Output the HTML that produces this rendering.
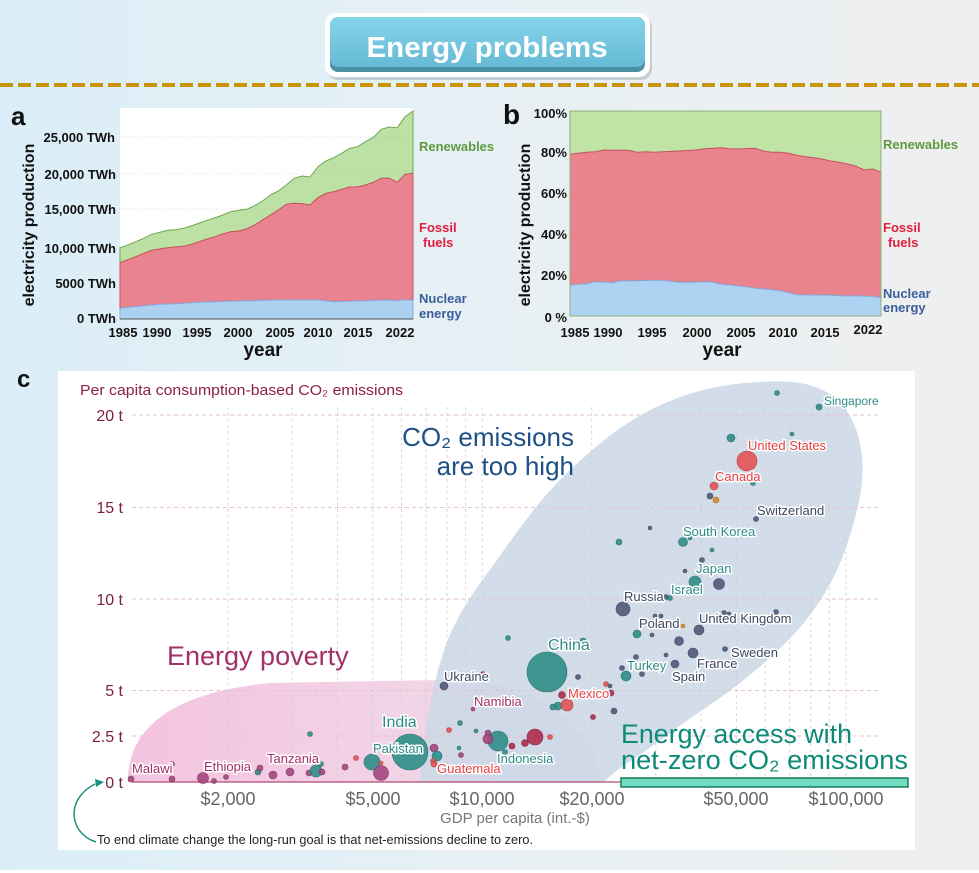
<!DOCTYPE html>
<html><head><meta charset="utf-8"><style>
html,body{margin:0;padding:0;background:#fff;}
svg{display:block;font-family:"Liberation Sans",Arial,sans-serif;}
.b{font-weight:bold;}
.lb{paint-order:stroke;stroke:#fff;stroke-width:3px;stroke-linejoin:round;font-size:13px;}
.m{fill:#a54a80;stroke:#7a2f5c;stroke-width:.6;opacity:.92}
.t{fill:#33908a;stroke:#1f6a65;stroke-width:.6;opacity:.92}
.g{fill:#525c7a;stroke:#39415a;stroke-width:.6;opacity:.92}
.r{fill:#e35656;stroke:#b03a3a;stroke-width:.6;opacity:.92}
.o{fill:#d98c2a;stroke:#a86418;stroke-width:.6;opacity:.92}
.s{fill:#b03050;stroke:#7e2038;stroke-width:.6;opacity:.92}
</style></head><body>
<svg width="979" height="873" viewBox="0 0 979 873" xmlns="http://www.w3.org/2000/svg">
<defs>
<linearGradient id="bg" x1="0" y1="0" x2="1" y2="0">
<stop offset="0" stop-color="#dbeef7"/><stop offset="0.5" stop-color="#e7f0f5"/><stop offset="1" stop-color="#efefef"/>
</linearGradient>
<linearGradient id="btn" x1="0" y1="0" x2="0" y2="1">
<stop offset="0" stop-color="#86d4eb"/><stop offset="1" stop-color="#66bad5"/>
</linearGradient>
<linearGradient id="pink" x1="0" y1="0" x2="1" y2="0">
<stop offset="0" stop-color="#f4c3df"/><stop offset="0.6" stop-color="#f2d4e7"/><stop offset="1" stop-color="#ecdcea"/>
</linearGradient>
</defs>
<rect width="979" height="870" fill="url(#bg)"/>

<!-- Title button -->
<rect x="327" y="16" width="325" height="64" rx="11" fill="#9aa3a8" opacity=".45"/>
<rect x="325" y="13" width="325" height="64" rx="11" fill="#ffffff"/>
<rect x="330" y="17" width="315" height="55" rx="8" fill="#4e8fa8"/>
<rect x="330" y="17" width="315" height="50" rx="8" fill="url(#btn)"/>
<text x="487" y="57" text-anchor="middle" class="b" font-size="29" fill="#ffffff" textLength="241" lengthAdjust="spacingAndGlyphs">Energy problems</text>
<line x1="0" y1="85" x2="979" y2="85" stroke="#c8940c" stroke-width="4" stroke-dasharray="13 5"/>

<!-- Panel a -->
<text x="11" y="125" class="b" font-size="26" fill="#111">a</text>
<rect x="120" y="108" width="293" height="211" fill="#ffffff"/>
<polygon fill="#bde0a4" stroke="#6aa84f" stroke-width="1" points="120,247.7 127.9,245 135.8,241.7 143.8,238.3 151.7,234.3 159.6,232.3 167.5,230.3 175.4,229.7 183.4,228.3 191.3,226 199.2,223 207.1,220.3 215,217.7 222.9,215 230.8,211.7 238.8,210.3 246.7,209.3 254.6,205.7 262.5,201 270.4,195 278.4,191 286.3,185 294.2,178.3 302.1,176 310,177 318,166.7 325.9,161 333.8,157.7 341.7,153.3 349.6,148.3 357.6,146.7 365.5,141.7 373.4,137.3 381.3,129.3 389.2,127 397.2,127.7 405.1,116.7 413,111 413,173.3 405.1,174.3 397.2,182.3 389.2,178.3 381.3,178.3 373.4,182.3 365.5,185 357.6,187 349.6,187 341.7,189.3 333.8,191.7 325.9,193.3 318,197.7 310,205 302.1,203.7 294.2,203.3 286.3,204.3 278.4,210 270.4,215 262.5,220 254.6,225 246.7,229 238.8,231 230.8,231.7 222.9,234 215,236.7 207.1,239 199.2,241.7 191.3,244.3 183.4,246.3 175.4,247 167.5,247.7 159.6,249 151.7,250.3 143.8,253.3 135.8,256.7 127.9,259.7 120,262.7"/>
<polygon fill="#e8838f" stroke="#c9505e" stroke-width="1" points="120,262.7 127.9,259.7 135.8,256.7 143.8,253.3 151.7,250.3 159.6,249 167.5,247.7 175.4,247 183.4,246.3 191.3,244.3 199.2,241.7 207.1,239 215,236.7 222.9,234 230.8,231.7 238.8,231 246.7,229 254.6,225 262.5,220 270.4,215 278.4,210 286.3,204.3 294.2,203.3 302.1,203.7 310,205 318,197.7 325.9,193.3 333.8,191.7 341.7,189.3 349.6,187 357.6,187 365.5,185 373.4,182.3 381.3,178.3 389.2,178.3 397.2,182.3 405.1,174.3 413,173.3 413,300.3 405.1,299.7 397.2,300.7 389.2,300 357.6,301 333.8,301.7 318,300 278.4,300 238.8,301 199.2,302.3 175.4,303.7 159.6,304.3 143.8,305.7 120,308.3"/>
<polygon fill="#abd0f0" stroke="#86aee0" stroke-width="1" points="120,308.3 143.8,305.7 159.6,304.3 175.4,303.7 199.2,302.3 238.8,301 278.4,300 318,300 333.8,301.7 357.6,301 389.2,300 397.2,300.7 405.1,299.7 413,300.3 413,319 120,319"/>
<g stroke="#9a9a9a" stroke-width=".6" stroke-dasharray="1 2" opacity=".6">
<line x1="120" y1="137" x2="413" y2="137"/><line x1="120" y1="174" x2="413" y2="174"/><line x1="120" y1="209" x2="413" y2="209"/><line x1="120" y1="248" x2="413" y2="248"/><line x1="120" y1="283" x2="413" y2="283"/>
</g>
<line x1="120" y1="319" x2="413" y2="319" stroke="#555" stroke-width="1"/>
<g class="b" font-size="13" fill="#111" text-anchor="end">
<text x="115" y="142">25,000 TWh</text><text x="116" y="179">20,000 TWh</text><text x="116" y="214">15,000 TWh</text><text x="116" y="253">10,000 TWh</text><text x="116" y="288">5000 TWh</text><text x="116" y="323">0 TWh</text>
</g>
<g class="b" font-size="13" fill="#111" text-anchor="middle">
<text x="123" y="337">1985</text><text x="157" y="337">1990</text><text x="197" y="337">1995</text><text x="238" y="337">2000</text><text x="280" y="337">2005</text><text x="318" y="337">2010</text><text x="358" y="337">2015</text><text x="400" y="337">2022</text>
</g>
<text x="263" y="356" text-anchor="middle" class="b" font-size="19" fill="#111">year</text>
<text transform="translate(34,225) rotate(-90)" text-anchor="middle" class="b" font-size="16" fill="#111">electricity production</text>
<g class="b" font-size="13">
<text x="419" y="151" fill="#5e9a3e">Renewables</text>
<text x="419" y="232" fill="#e0203c">Fossil</text><text x="423" y="247" fill="#e0203c">fuels</text>
<text x="419" y="303" fill="#3a5e9c">Nuclear</text><text x="419" y="318" fill="#3a5e9c">energy</text>
</g>

<!-- Panel b -->
<text x="503" y="124" class="b" font-size="28" fill="#111">b</text>
<rect x="570" y="111" width="311" height="205" fill="#c0e3a6"/>
<polygon fill="#e9848f" stroke="#c9505e" stroke-width="1" points="570,154.3 586.8,152.3 595.2,151.7 603.6,150 612,150.3 628.8,150.3 637.2,152.3 645.6,151.7 654,152.3 662.5,151.7 679.3,151 696.1,150 704.5,148.7 721.3,147.7 729.7,148.7 738.1,149 754.9,148.3 763.3,151 771.7,152.3 780.1,152.3 788.5,153.3 796.9,155.3 805.3,156.7 813.7,157.7 822.1,159 830.5,161 838.9,162.3 847.3,164 855.7,166 864.1,170 872.6,169 881,172.3 881,297.7 872.6,296.3 864.1,296.3 855.7,295.7 847.3,296 830.5,295.3 813.7,295 805.3,295 796.9,294.7 788.5,292.7 780.1,290.7 771.7,289.7 763.3,289 754.9,288.3 746.5,286.7 738.1,286 729.7,285 721.3,284.3 712.9,282.3 704.5,281.7 696.1,282.3 679.3,282.3 662.5,280.3 637.2,280.7 620.4,281 612,282.7 595.2,281.7 586.8,283.7 570,285"/>
<polygon fill="#aed3f2" stroke="#86aee0" stroke-width="1" points="570,285 586.8,283.7 595.2,281.7 612,282.7 620.4,281 637.2,280.7 662.5,280.3 679.3,282.3 696.1,282.3 704.5,281.7 712.9,282.3 721.3,284.3 729.7,285 738.1,286 746.5,286.7 754.9,288.3 763.3,289 771.7,289.7 780.1,290.7 788.5,292.7 796.9,294.7 805.3,295 813.7,295 830.5,295.3 847.3,296 855.7,295.7 864.1,296.3 872.6,296.3 881,297.7 881,316 570,316"/>
<g stroke="#9a9a9a" stroke-width=".6" stroke-dasharray="1 2" opacity=".5">
<line x1="570" y1="152" x2="881" y2="152"/><line x1="570" y1="193" x2="881" y2="193"/><line x1="570" y1="234" x2="881" y2="234"/><line x1="570" y1="275" x2="881" y2="275"/>
</g>
<rect x="570" y="111" width="311" height="205" fill="none" stroke="#8fb07a" stroke-width="1"/>
<g class="b" font-size="13" fill="#111" text-anchor="end">
<text x="567" y="118">100%</text><text x="567" y="157">80%</text><text x="567" y="198">60%</text><text x="567" y="239">40%</text><text x="567" y="280">20%</text><text x="567" y="322">0 %</text>
</g>
<g class="b" font-size="13" fill="#111" text-anchor="middle">
<text x="575" y="337">1985</text><text x="608" y="337">1990</text><text x="652" y="337">1995</text><text x="697" y="337">2000</text><text x="741" y="337">2005</text><text x="783" y="337">2010</text><text x="825" y="337">2015</text><text x="868" y="334">2022</text>
</g>
<text x="722" y="356" text-anchor="middle" class="b" font-size="19" fill="#111">year</text>
<text transform="translate(530,225) rotate(-90)" text-anchor="middle" class="b" font-size="16" fill="#111">electricity production</text>
<g class="b" font-size="13">
<text x="883" y="149" fill="#5e9a3e">Renewables</text>
<text x="883" y="232" fill="#e0203c">Fossil</text><text x="888" y="247" fill="#e0203c">fuels</text>
<text x="883" y="298" fill="#3a5e9c">Nuclear</text><text x="883" y="312" fill="#3a5e9c">energy</text>
</g>

<!-- Panel c -->
<text x="17" y="387" class="b" font-size="24" fill="#111">c</text>
<rect x="58" y="371" width="857" height="479" fill="#ffffff"/>
<text x="80" y="395" font-size="15" fill="#8b2045" textLength="323" lengthAdjust="spacingAndGlyphs">Per capita consumption-based CO₂ emissions</text>

<!-- pink region -->
<path d="M128,782 C127,733 165,693 270,683 L440,680 C530,680 592,715 602,782 Z" fill="url(#pink)"/>
<!-- blue region -->
<path d="M420,782 L421.5,763.5 Q423,745 426.5,725 Q430,705 434,686.5 Q438,668 444.5,649 Q451,630 461.5,612 Q472,594 484.5,577 Q497,560 509,543 Q521,526 534,509.5 Q547,493 562.5,477.5 Q578,462 595,447.5 Q612,433 629.5,422 Q647,411 664,403.5 Q681,396 697.5,391.5 Q714,387 732,384.5 Q750,382 768.5,381.5 Q787,381 800,383 Q813,385 825.5,391.5 Q838,398 846.5,410.5 Q855,423 859,439 Q863,455 862.5,472.5 Q862,490 857.5,508.5 Q853,527 846,547.5 Q839,568 829.5,585 Q820,602 808.5,617 Q797,632 782.5,646 Q768,660 753,672.5 Q738,685 724,695 Q710,705 698,713 Q686,721 672,731.5 Q658,742 646,750.5 Q634,759 625.5,764.5 Q617,770 610.5,776 L604,782 Z" fill="#ccd8e6" opacity=".88"/>

<!-- gridlines -->
<g stroke="#cfcfcf" stroke-width="1" stroke-dasharray="3 3" opacity=".8">
<line x1="228" y1="407" x2="228" y2="782"/><line x1="292" y1="407" x2="292" y2="782"/><line x1="337.5" y1="407" x2="337.5" y2="782"/><line x1="372.7" y1="407" x2="372.7" y2="782"/><line x1="401.5" y1="407" x2="401.5" y2="782"/><line x1="425.9" y1="407" x2="425.9" y2="782"/><line x1="447" y1="407" x2="447" y2="782"/><line x1="465.6" y1="407" x2="465.6" y2="782"/><line x1="482.2" y1="407" x2="482.2" y2="782"/><line x1="591.7" y1="407" x2="591.7" y2="782"/><line x1="655.8" y1="407" x2="655.8" y2="782"/><line x1="701.2" y1="407" x2="701.2" y2="782"/><line x1="736.4" y1="407" x2="736.4" y2="782"/><line x1="765.2" y1="407" x2="765.2" y2="782"/><line x1="789.6" y1="407" x2="789.6" y2="782"/><line x1="810.7" y1="407" x2="810.7" y2="782"/><line x1="829.3" y1="407" x2="829.3" y2="782"/><line x1="845.9" y1="407" x2="845.9" y2="782"/>
</g>
<g stroke="#e6c2cf" stroke-width="1" stroke-dasharray="4 3">
<line x1="132" y1="415" x2="878" y2="415"/><line x1="132" y1="507.5" x2="878" y2="507.5"/><line x1="132" y1="599" x2="878" y2="599"/><line x1="132" y1="690.5" x2="878" y2="690.5"/><line x1="132" y1="736" x2="878" y2="736"/>
</g>
<line x1="132" y1="782" x2="621" y2="782" stroke="#b04a78" stroke-width="1.2"/>

<g font-size="16" fill="#7a1f3d" text-anchor="end">
<text x="123" y="421">20 t</text><text x="123" y="513">15 t</text><text x="123" y="605">10 t</text><text x="123" y="696">5 t</text><text x="123" y="742">2.5 t</text><text x="123" y="788">0 t</text>
</g>
<g font-size="18" fill="#666" text-anchor="middle">
<text x="228" y="805">$2,000</text><text x="373" y="805">$5,000</text><text x="482" y="805">$10,000</text><text x="592" y="805">$20,000</text><text x="736" y="805">$50,000</text><text x="846" y="805">$100,000</text>
</g>
<text x="515" y="823" text-anchor="middle" font-size="15" fill="#777">GDP per capita (int.-$)</text>
<text x="97" y="844" font-size="13" fill="#222" textLength="436" lengthAdjust="spacingAndGlyphs">To end climate change the long-run goal is that net-emissions decline to zero.</text>
<path d="M96,842 C70,834 64,800 95,784" fill="none" stroke="#1a9080" stroke-width="1.5"/>
<polygon points="104,782 95,779 96,787" fill="#1a9080"/>

<!-- Big annotations -->
<g font-size="26" fill="#1e4f86" text-anchor="end">
<text x="574" y="446">CO₂ emissions</text><text x="574" y="475">are too high</text>
</g>
<text x="167" y="665" font-size="27" fill="#a3306a">Energy poverty</text>
<text x="621" y="743" font-size="27" fill="#0e8a78" textLength="231" lengthAdjust="spacingAndGlyphs">Energy access with</text>
<text x="621" y="769" font-size="27" fill="#0e8a78" textLength="287" lengthAdjust="spacingAndGlyphs">net-zero CO₂ emissions</text>
<rect x="621" y="778" width="287" height="9" fill="#72dcc2" stroke="#1a7a5a" stroke-width="1.5"/>

<!-- bubbles -->
<g>
<circle cx="131" cy="779" r="3" class="m"/>
<circle cx="172" cy="764" r="2.5" class="m"/>
<circle cx="172" cy="779" r="3" class="m"/>
<circle cx="203" cy="778" r="5.5" class="m"/>
<circle cx="214" cy="781" r="2.5" class="m"/>
<circle cx="226" cy="777" r="2.5" class="m"/>
<circle cx="258" cy="772" r="3" class="t"/>
<circle cx="260" cy="768" r="3" class="m"/>
<circle cx="273" cy="775" r="4" class="m"/>
<circle cx="290" cy="772" r="4" class="m"/>
<circle cx="309" cy="773" r="3" class="m"/>
<circle cx="310" cy="734" r="2.5" class="t"/>
<circle cx="316" cy="771" r="6" class="t"/>
<circle cx="321" cy="764" r="2.5" class="t"/>
<circle cx="322" cy="772" r="3" class="m"/>
<circle cx="345" cy="767" r="3" class="m"/>
<circle cx="356" cy="758" r="2.5" class="r"/>
<circle cx="372" cy="762" r="8" class="t"/>
<circle cx="381" cy="773" r="7.5" class="m"/>
<circle cx="381" cy="763" r="2" class="r"/>
<circle cx="410" cy="752" r="18" class="t"/>
<circle cx="434" cy="748" r="4" class="m"/>
<circle cx="437" cy="756" r="5" class="t"/>
<circle cx="433" cy="761" r="2.5" class="r"/>
<circle cx="434" cy="764" r="3" class="r"/>
<circle cx="460" cy="723" r="2.5" class="t"/>
<circle cx="449" cy="730" r="2.5" class="r"/>
<circle cx="459" cy="748" r="2" class="t"/>
<circle cx="461" cy="755" r="2.5" class="m"/>
<circle cx="476" cy="731" r="2" class="t"/>
<circle cx="444" cy="686" r="4" class="g"/>
<circle cx="483" cy="674" r="2.5" class="m"/>
<circle cx="473" cy="709" r="2" class="m"/>
<circle cx="488" cy="733" r="3" class="m"/>
<circle cx="498" cy="741" r="10" class="t"/>
<circle cx="488" cy="739" r="5" class="m"/>
<circle cx="505" cy="752" r="2.5" class="t"/>
<circle cx="512" cy="746" r="3" class="s"/>
<circle cx="525" cy="743" r="3.5" class="s"/>
<circle cx="535" cy="737" r="8" class="s"/>
<circle cx="550" cy="737" r="2.5" class="r"/>
<circle cx="508" cy="638" r="2.5" class="t"/>
<circle cx="583" cy="641" r="3" class="t"/>
<circle cx="547" cy="672" r="20" class="t"/>
<circle cx="578" cy="677" r="2.5" class="g"/>
<circle cx="562" cy="695" r="3.5" class="s"/>
<circle cx="558" cy="706" r="4" class="t"/>
<circle cx="553" cy="707" r="3" class="t"/>
<circle cx="567" cy="705" r="6" class="r"/>
<circle cx="606" cy="684" r="2.5" class="r"/>
<circle cx="610" cy="686" r="2" class="g"/>
<circle cx="611" cy="693" r="3" class="s"/>
<circle cx="593" cy="717" r="2.5" class="s"/>
<circle cx="614" cy="711" r="3" class="g"/>
<circle cx="623" cy="609" r="7" class="g"/>
<circle cx="626" cy="676" r="5" class="t"/>
<circle cx="622" cy="668" r="2.5" class="g"/>
<circle cx="642" cy="674" r="2.5" class="g"/>
<circle cx="637" cy="634" r="4" class="t"/>
<circle cx="652" cy="635" r="2" class="g"/>
<circle cx="655" cy="616" r="2" class="g"/>
<circle cx="661" cy="616" r="2" class="g"/>
<circle cx="683" cy="626" r="2" class="o"/>
<circle cx="699" cy="630" r="5" class="g"/>
<circle cx="724" cy="613" r="2.5" class="g"/>
<circle cx="729" cy="614" r="2" class="g"/>
<circle cx="776" cy="612" r="2.5" class="g"/>
<circle cx="679" cy="641" r="4.5" class="g"/>
<circle cx="693" cy="653" r="5" class="g"/>
<circle cx="725" cy="649" r="2.5" class="g"/>
<circle cx="666" cy="655" r="2" class="g"/>
<circle cx="636" cy="657" r="2.5" class="g"/>
<circle cx="675" cy="664" r="4" class="g"/>
<circle cx="666" cy="597" r="2.5" class="g"/>
<circle cx="670" cy="598" r="2.5" class="t"/>
<circle cx="695" cy="582" r="6" class="t"/>
<circle cx="719" cy="584" r="5.5" class="g"/>
<circle cx="685" cy="571" r="2" class="g"/>
<circle cx="702" cy="560" r="2.5" class="g"/>
<circle cx="712" cy="550" r="2" class="t"/>
<circle cx="683" cy="542" r="4.5" class="t"/>
<circle cx="690" cy="538" r="2" class="t"/>
<circle cx="619" cy="542" r="3" class="t"/>
<circle cx="650" cy="528" r="2" class="g"/>
<circle cx="756" cy="519" r="2.5" class="g"/>
<circle cx="710" cy="496" r="3" class="g"/>
<circle cx="716" cy="500" r="3" class="o"/>
<circle cx="714" cy="486" r="4" class="r"/>
<circle cx="753" cy="483" r="2.5" class="t"/>
<circle cx="747" cy="461" r="10" class="r"/>
<circle cx="731" cy="438" r="4" class="t"/>
<circle cx="792" cy="434" r="2" class="t"/>
<circle cx="777" cy="393" r="2.5" class="t"/>
<circle cx="819" cy="407" r="3" class="t"/>
</g>

<!-- labels -->
<g class="lb">
<text x="824" y="405" fill="#2e8c86" font-size="12">Singapore</text>
<text x="748" y="450" fill="#e84040">United States</text>
<text x="715" y="481" fill="#e84040">Canada</text>
<text x="757" y="515" fill="#3f4862">Switzerland</text>
<text x="683" y="536" fill="#2e8c86">South Korea</text>
<text x="696" y="573" fill="#2e8c86">Japan</text>
<text x="671" y="594" fill="#2e8c86">Israel</text>
<text x="624" y="601" fill="#3f4862">Russia</text>
<text x="699" y="623" fill="#3f4862">United Kingdom</text>
<text x="639" y="628" fill="#3f4862">Poland</text>
<text x="731" y="657" fill="#3f4862">Sweden</text>
<text x="697" y="668" fill="#3f4862">France</text>
<text x="672" y="681" fill="#3f4862">Spain</text>
<text x="627" y="670" fill="#2e8c86">Turkey</text>
<text x="548" y="650" fill="#2e8c86" font-size="16">China</text>
<text x="568" y="698" fill="#e84040">Mexico</text>
<text x="444" y="681" fill="#3f4862">Ukraine</text>
<text x="474" y="706" fill="#a3306a">Namibia</text>
<text x="382" y="727" fill="#2e8c86" font-size="16">India</text>
<text x="373" y="753" fill="#2e8c86">Pakistan</text>
<text x="437" y="773" fill="#e84040">Guatemala</text>
<text x="497" y="763" fill="#2e8c86">Indonesia</text>
<text x="267" y="763" fill="#a3306a">Tanzania</text>
<text x="204" y="771" fill="#a3306a">Ethiopia</text>
<text x="132" y="773" fill="#a3306a">Malawi</text>
</g>
</svg>
</body></html>
